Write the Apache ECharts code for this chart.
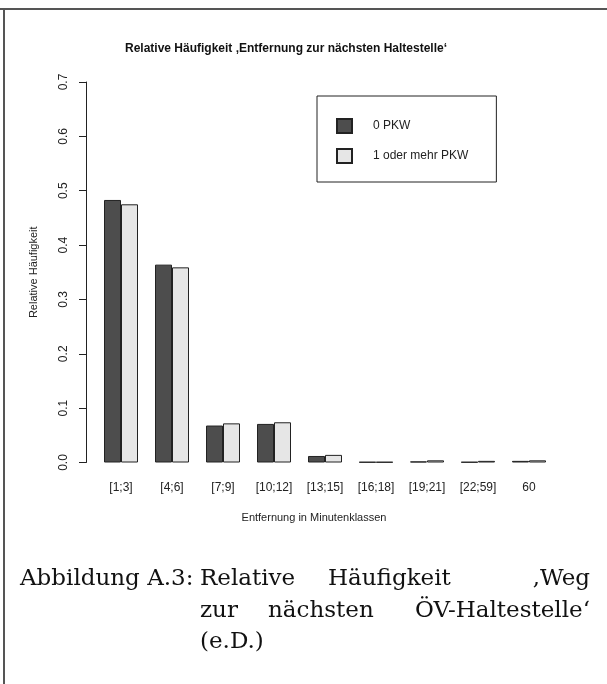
<!DOCTYPE html>
<html>
<head>
<meta charset="utf-8">
<script src="https://cdn.jsdelivr.net/npm/echarts@6/dist/echarts.min.js"></script>
<style>
html,body{margin:0;padding:0;background:#fff;}
#chart{width:607px;height:684px;}
</style>
</head>
<body>
<div id="chart"></div>
<script>
const categories = ['[1;3]','[4;6]','[7;9]','[10;12]','[13;15]','[16;18]','[19;21]','[22;59]','60'];
const seriesNames = ['0 PKW','1 oder mehr PKW'];
const pkw0 = [0.483, 0.364, 0.068, 0.071, 0.012, 0.001, 0.002, 0.001, 0.003];
const pkw1 = [0.475, 0.359, 0.072, 0.074, 0.014, 0.001, 0.004, 0.003, 0.004];
const yTicks = ['0.0','0.1','0.2','0.3','0.4','0.5','0.6','0.7'];

const FONT = 'Liberation Sans';
const CAP = '23px "DejaVu Serif"';
const chart = echarts.init(document.getElementById('chart'), null, {renderer:'canvas'});
chart.setOption({
  animation:false,
  backgroundColor:'#fff',
  textStyle:{fontFamily:FONT},
  title:{
    text:'Relative Häufigkeit \u201AEntfernung zur nächsten Haltestelle\u2018',
    left:281, top:38, textAlign:'center',
    textStyle:{fontFamily:FONT, fontSize:12, fontWeight:'bold', color:'#111'}
  },
  legend:{
    orient:'vertical', left:317, top:96,
    padding:[22,28,18,19],
    borderColor:'#222', borderWidth:1, borderRadius:0,
    icon:'rect', itemWidth:15, itemHeight:14, itemGap:14,
    textStyle:{fontFamily:FONT, fontSize:12, color:'#222', padding:[0,0,0,16]},
    data:seriesNames
  },
  grid:{left:95.5, width:459, top:82, height:380.5, containLabel:false},
  xAxis:{
    type:'category', data:categories,
    axisLine:{show:false}, axisTick:{show:false},
    axisLabel:{fontFamily:FONT, fontSize:12, color:'#222', margin:19, interval:0},
    name:'Entfernung in Minutenklassen', nameLocation:'middle', nameGap:50,
    nameTextStyle:{fontFamily:FONT, fontSize:11, color:'#222', padding:[0,22,0,0]}
  },
  yAxis:{
    type:'value', min:0, max:0.7, interval:0.1, offset:9.5,
    axisLine:{show:true, lineStyle:{color:'#222', width:1}},
    axisTick:{show:true, length:7, lineStyle:{color:'#222'}},
    splitLine:{show:false},
    axisLabel:{fontFamily:FONT, fontSize:12, color:'#222', rotate:90, margin:16,
      formatter:(v)=>yTicks[Math.round(v*10)] || ''},
    name:'Relative Häufigkeit', nameLocation:'middle', nameGap:47, nameRotate:90,
    nameTextStyle:{fontFamily:FONT, fontSize:11, color:'#222'}
  },
  series:[
    {name:seriesNames[0], type:'bar', data:pkw0, barWidth:17, barGap:'0%',
     itemStyle:{color:'#4d4d4d', borderColor:'#222', borderWidth:1}},
    {name:seriesNames[1], type:'bar', data:pkw1, barWidth:17, barGap:'0%',
     itemStyle:{color:'#e6e6e6', borderColor:'#222', borderWidth:1}}
  ],
  graphic:[
    {type:'line', shape:{x1:0, y1:9, x2:607, y2:9}, style:{stroke:'#555', lineWidth:2}},
    {type:'line', shape:{x1:4, y1:9, x2:4, y2:684}, style:{stroke:'#555', lineWidth:2}},
    {type:'text', left:20, top:568, style:{text:'Abbildung A.3:', font:CAP, fill:'#111'}},
    {type:'text', left:200, top:568, style:{text:'Relative', font:CAP, fill:'#111'}},
    {type:'text', left:328, top:568, style:{text:'Häufigkeit', font:CAP, fill:'#111'}},
    {type:'text', right:17, top:568, style:{text:'\u201AWeg', font:CAP, fill:'#111'}},
    {type:'text', left:200, top:600, style:{text:'zur', font:CAP, fill:'#111'}},
    {type:'text', left:268, top:600, style:{text:'nächsten', font:CAP, fill:'#111'}},
    {type:'text', right:17, top:600, style:{text:'ÖV-Haltestelle\u2018', font:CAP, fill:'#111'}},
    {type:'text', left:200, top:631, style:{text:'(e.D.)', font:CAP, fill:'#111'}}
  ]
});
</script>
</body>
</html>
